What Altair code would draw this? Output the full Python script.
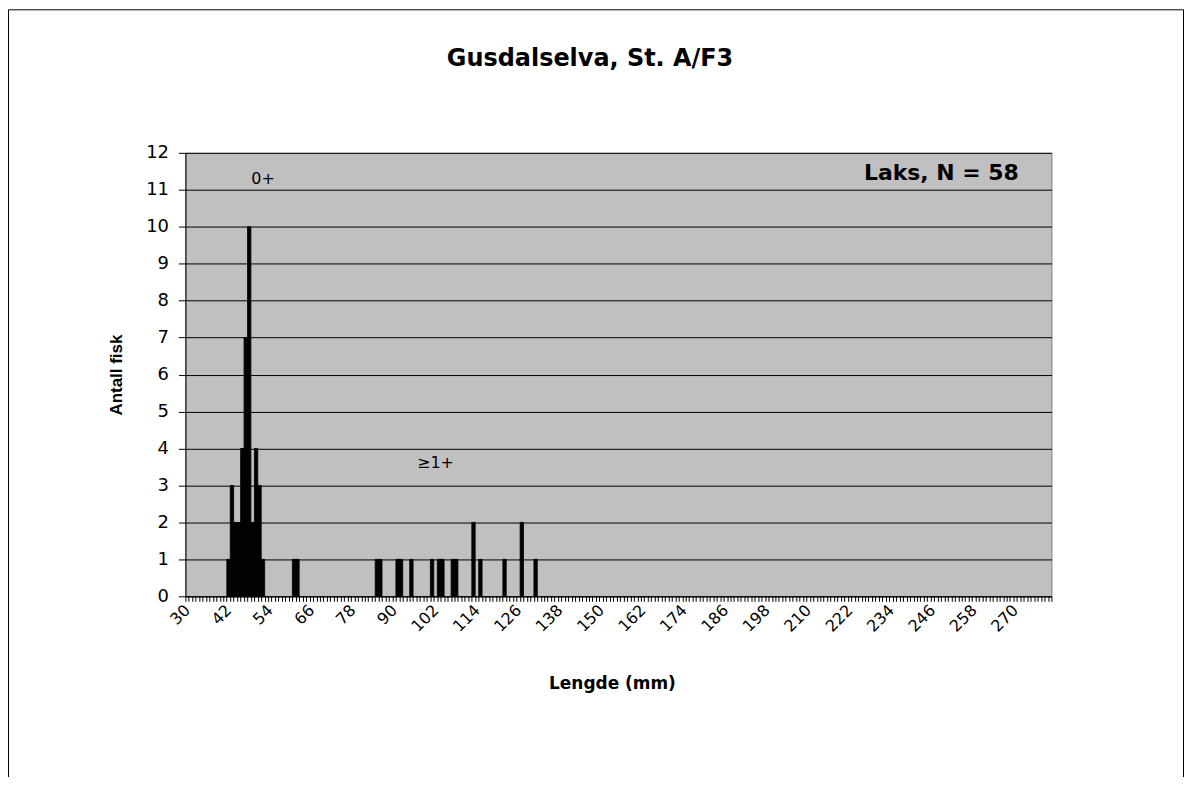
import altair as alt
import pandas as pd

# Histogram data (length in mm -> number of fish)
lengths = [42, 43, 44, 45, 46, 47, 48, 49, 50, 51, 52,
           61, 62, 85, 86, 91, 92, 95, 101, 103, 104, 107, 108,
           113, 115, 122, 127, 131]
counts = [1, 3, 2, 2, 4, 7, 10, 2, 4, 3, 1,
          1, 1, 1, 1, 1, 1, 1, 1, 1, 1, 1, 1,
          2, 1, 1, 2, 1]

categories = list(range(30, 281))      # one category per mm
y_ticks = list(range(0, 13))

# annotations (anchored in data coordinates)
ann_text = ["0+", "\u22651+"]
ann_len = [52, 102]
ann_y = [11.3, 3.6]
legend_text = ["Laks, N = 58"]
legend_len = [271]
legend_y = [11.45]
title_text = ["Gusdalselva, St. A/F3"]

FONT = "DejaVu Sans"
FONT2 = "Liberation Sans"

df = pd.DataFrame({"length": lengths, "count": counts})
ann = pd.DataFrame({"length": ann_len, "count": ann_y, "t": ann_text})
leg = pd.DataFrame({"length": legend_len, "count": legend_y, "t": legend_text})
ttl = pd.DataFrame({"t": title_text})

xscale = alt.Scale(domain=categories, paddingInner=0.02, paddingOuter=0)
yscale = alt.Scale(domain=[0, 12], nice=False)

x_axis = alt.Axis(
    title="Lengde (mm)",
    labelExpr="(datum.value - 30) % 12 == 0 ? datum.label : ''",
    labelAngle=-45, labelAlign="right", labelBaseline="middle",
    labelOverlap=False, labelPadding=6, labelFontSize=16, labelColor="#000",
    labelFont=FONT,
    tickBand="extent", tickSize=5, tickColor="#000", domainColor="#000",
    titleFont=FONT, titleFontSize=17, titleFontWeight="bold", titleColor="#000",
    titleY=88, titleX=428, titleBaseline="middle", grid=False,
)
y_axis = alt.Axis(
    title="Antall fisk", values=y_ticks, tickSize=7, tickColor="#000",
    domainColor="#000", labelFontSize=18, labelColor="#000", labelFont=FONT,
    labelPadding=10, labelOverlap=False,
    grid=True, gridColor="#000", gridWidth=1,
    titleFont=FONT2, titleFontSize=17, titleFontWeight="bold", titleColor="#000",
    titleX=-69, titleBaseline="middle",
)

X = alt.X("length:O", scale=xscale, axis=x_axis)
Y = alt.Y("count:Q", scale=yscale, axis=y_axis)

bars = alt.Chart(df).mark_bar(color="#000", stroke="#000", strokeWidth=0.8).encode(
    x=X, y=Y,
)

ann_layer = alt.Chart(ann).mark_text(
    font=FONT, fontSize=16, color="#000", align="center", baseline="middle"
).encode(x=X, y=Y, text="t:N")

leg_layer = alt.Chart(leg).mark_text(
    font=FONT, fontSize=22, fontWeight="bold", color="#000",
    align="right", baseline="middle"
).encode(x=X, y=Y, text="t:N")

title_layer = alt.Chart(ttl).mark_text(
    font=FONT, fontSize=24, fontWeight="bold", color="#000",
    align="center", baseline="middle"
).encode(
    x=alt.value(406), y=alt.value(-94), text="t:N",
)

frame = alt.Chart(pd.DataFrame({"f": [0]})).mark_rect(
    fillOpacity=0, stroke="#000", strokeWidth=1
).encode(
    x=alt.value(-177.5), x2=alt.value(1001.5),
    y=alt.value(-143.5), y2=alt.value(800),
)

chart = alt.layer(bars, ann_layer, leg_layer, title_layer, frame).properties(
    width=869, height=445,
    autosize=alt.AutoSizeParams(type="none"),
    padding={"left": 178, "top": 144, "right": 133, "bottom": 180},
).configure_view(
    fill="#C0C0C0", stroke="#808080", strokeWidth=1
)

chart.save("out.html", embed_options={"renderer": "svg", "actions": False})
